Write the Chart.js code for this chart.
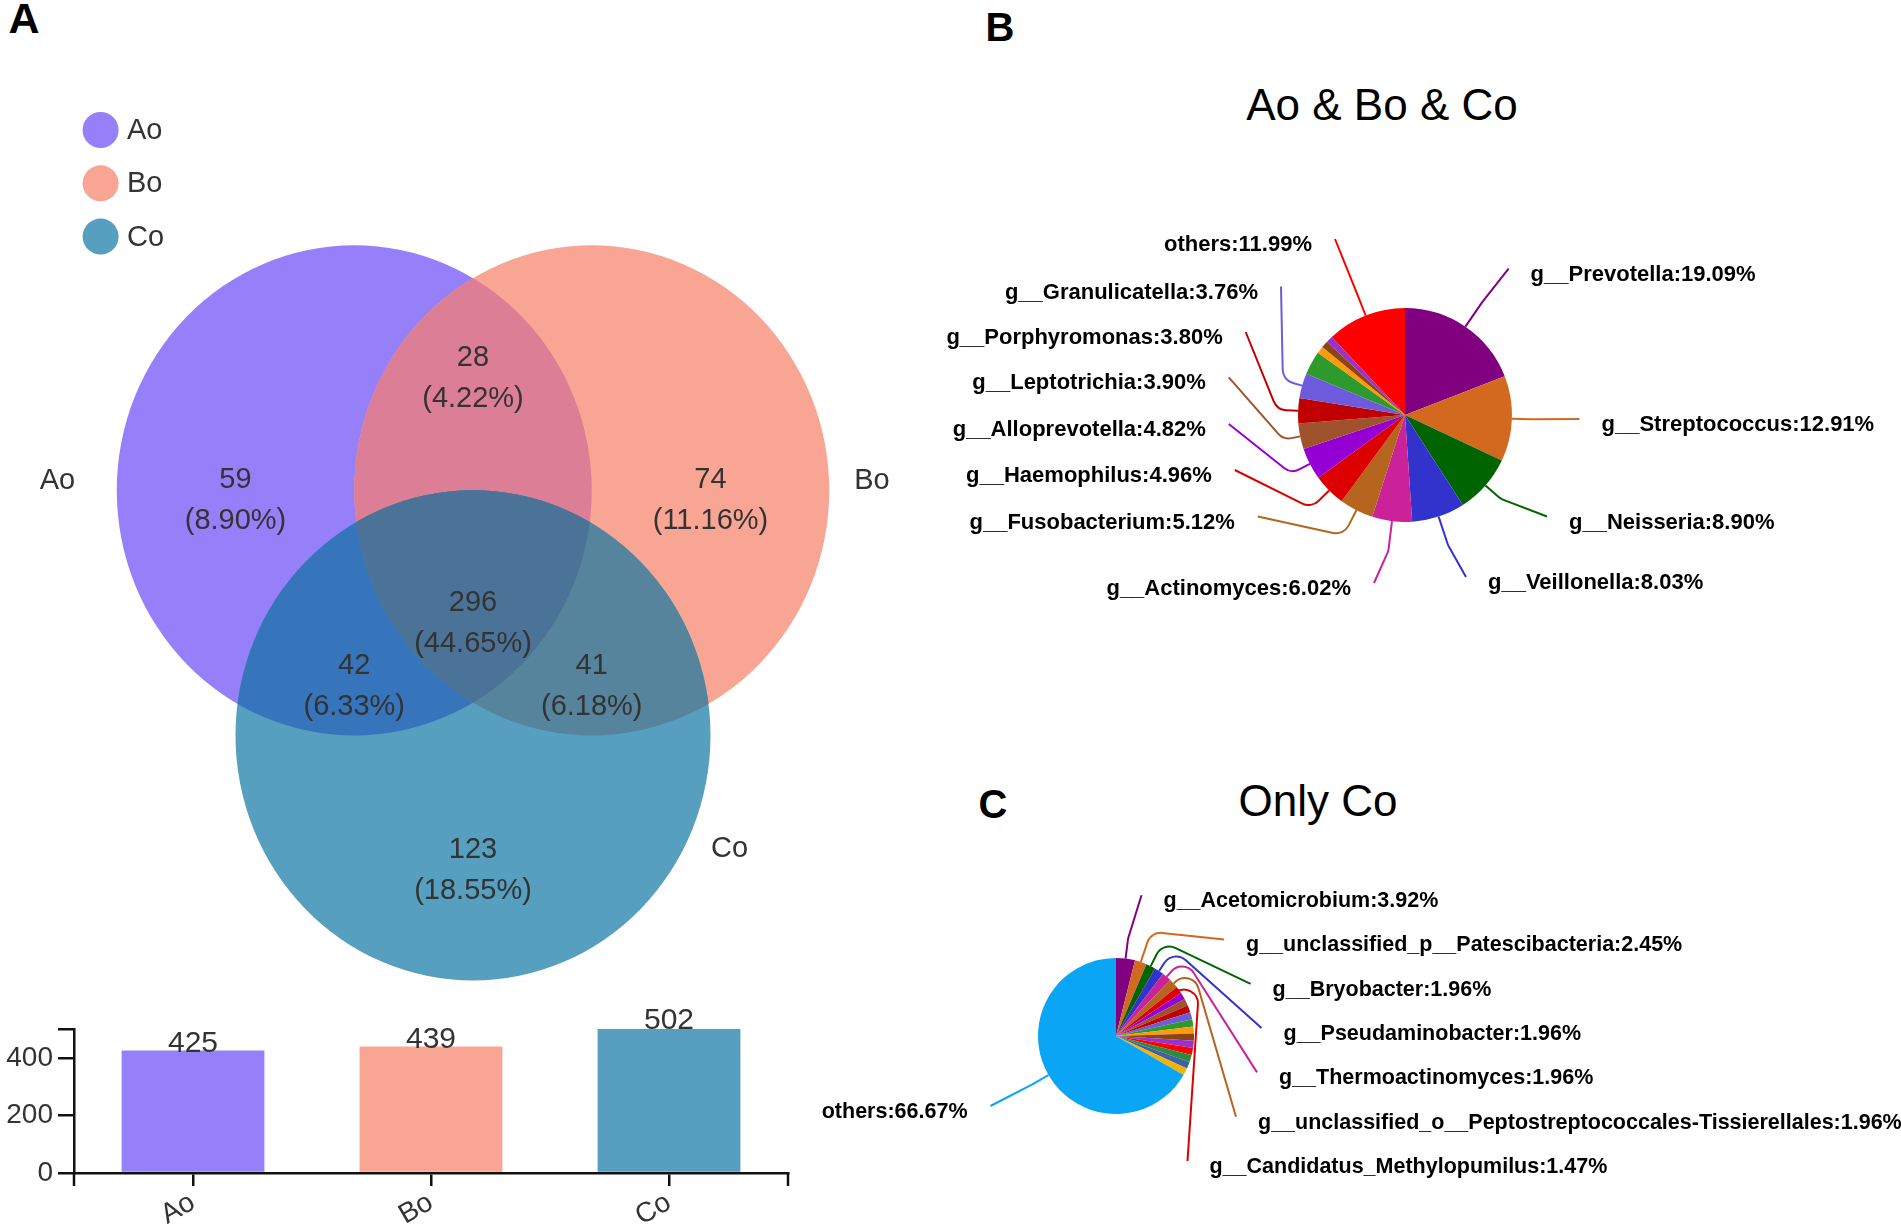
<!DOCTYPE html>
<html>
<head>
<meta charset="utf-8">
<script src="https://cdn.jsdelivr.net/npm/chart.js@4.4.1/dist/chart.umd.min.js"></script>
<style>
  html, body { margin: 0; padding: 0; background: #fff; }
  body { width: 1901px; height: 1224px; position: relative; overflow: hidden; font-family: "Liberation Sans", Arial, sans-serif; }
  .box { position: absolute; }
  .txt { position: absolute; transform: translate(-50%, -50%); white-space: nowrap; color: #000; line-height: 1; }
  .panel { font-size: 40px; font-weight: bold; }
  .title { font-size: 44px; }
</style>
</head>
<body>
<div class="txt panel" style="left:24px;top:18px;font-size:43px">A</div>
<div class="txt panel" style="left:1000px;top:27px">B</div>
<div class="txt panel" style="left:993px;top:804px">C</div>
<div class="txt title" style="left:1382px;top:105px">Ao &amp; Bo &amp; Co</div>
<div class="txt title" style="left:1318px;top:801px">Only Co</div>

<div class="box" style="left:-2px;top:86px;width:950px;height:919px"><canvas id="venn"></canvas></div>
<div class="box" style="left:0;top:1000px;width:800px;height:224px"><canvas id="bars"></canvas></div>
<div class="box" style="left:900px;top:0;width:1001px;height:700px"><canvas id="pieAll"></canvas></div>
<div class="box" style="left:800px;top:860px;width:1101px;height:364px"><canvas id="pieCo"></canvas></div>

<script>
// ---- data ----
const sets = ['Ao', 'Bo', 'Co'];
const setTotals = [425, 439, 502];
const barTicks = [0, 200, 400, 500];

// venn circles, in the venn's own units (radius 1)
const vennX = [0, 1, 0.5];
const vennY = [0, 0, -1];
const regionNames = ['Ao', 'Bo', 'Co', 'Ao&Bo', 'Ao&Co', 'Bo&Co', 'Ao&Bo&Co'];
const regionCounts = [59, 74, 123, 28, 42, 41, 296];
const regionPct = ['8.90%', '11.16%', '18.55%', '4.22%', '6.33%', '6.18%', '44.65%'];

const allGenera = ['g__Prevotella', 'g__Streptococcus', 'g__Neisseria', 'g__Veillonella', 'g__Actinomyces',
  'g__Fusobacterium', 'g__Haemophilus', 'g__Alloprevotella', 'g__Leptotrichia', 'g__Porphyromonas',
  'g__Granulicatella', '', '', '', '', 'others'];
const allShares = [19.09, 12.91, 8.90, 8.03, 6.02, 5.12, 4.96, 4.82, 3.90, 3.80, 3.76, 3.55, 1.10, 1.05, 1.00, 11.99];

const coGenera = ['g__Acetomicrobium', 'g__unclassified_p__Patescibacteria', 'g__Bryobacter', 'g__Pseudaminobacter',
  'g__Thermoactinomyces', 'g__unclassified_o__Peptostreptococcales-Tissierellales', 'g__Candidatus_Methylopumilus',
  '', '', '', '', '', '', '', '', '', '', '', '', 'others'];
const coShares = [3.92, 2.45, 1.96, 1.96, 1.96, 1.96, 1.47,
  1.47, 1.47, 1.47, 1.47, 1.47, 1.47, 1.47, 1.47, 1.47, 1.47, 1.47, 1.47, 66.67];

// ---- styles / layout ----
const setColors = ['#9580fa', '#f9a594', '#579fbf'];
const regionColors = ['#9580fa', '#f9a594', '#579fbf', '#dc7e96', '#3675bc', '#56849c', '#4b7397'];
const regionPos = [[-0.5, -0.04], [1.5, -0.04], [0.5, -1.55], [0.5, 0.46], [0, -0.8], [1, -0.8], [0.5, -0.54]];
const setNamePos = [[-1.25, 0.04], [2.18, 0.04], [1.58, -1.465]];
const palette = ['#800080', '#d2691e', '#006400', '#3232cd', '#cc2299', '#b5651d', '#dc0000', '#9400d3',
  '#a0522d', '#c00000', '#6e5adc', '#2e9a2e', '#ff9a0a', '#8b4513', '#9932cc', '#ff0000',
  '#2e8b3e', '#3f62a8', '#f4b400'];

// label anchor relative to pie centre: i, side, dx, dy, ext (radial run before the bend)
const allLabelPos = [
  [0, 'right', 125.6, -140.3, 30], [1, 'right', 196.5, 10, 20], [2, 'right', 164, 107.5, 20],
  [3, 'right', 83, 168, 30], [4, 'left', -54, 174, 30], [5, 'left', -170.2, 107.5, 28],
  [6, 'left', -193.2, 61, 25], [7, 'left', -199.2, 15, 21], [8, 'left', -199.2, -31.6, 17],
  [9, 'left', -182.3, -77, 21], [10, 'left', -147, -122.5, 20], [15, 'left', -93, -170, 30]
];
const coLabelPos = [
  [0, 'right', 47.5, -134.8, 20], [1, 'right', 130, -90.5, 32], [2, 'right', 156.6, -46.2, 27],
  [3, 'right', 167.5, -2, 26], [4, 'right', 163, 42.4, 26], [5, 'right', 142, 86.7, 25],
  [6, 'right', 93.5, 131, 26], [19, 'left', -148.5, 76, 20]
];

const FONT = '"Liberation Sans", Arial, sans-serif';
Chart.defaults.font.family = FONT;

// ---- venn ----
const vennPlugin = {
  id: 'venn',
  beforeDatasetsDraw(chart) {
    const { ctx, scales: { x, y } } = chart;
    const rx = Math.abs(x.getPixelForValue(1) - x.getPixelForValue(0));
    const ry = Math.abs(y.getPixelForValue(0) - y.getPixelForValue(1));
    const shape = i => {
      ctx.beginPath();
      ctx.ellipse(x.getPixelForValue(vennX[i]), y.getPixelForValue(vennY[i]), rx, ry, 0, 0, Math.PI * 2);
    };
    const paint = (clips, i, color) => {
      ctx.save();
      clips.forEach(c => { shape(c); ctx.clip(); });
      shape(i);
      ctx.fillStyle = color;
      ctx.fill();
      ctx.restore();
    };
    paint([], 0, regionColors[0]);
    paint([], 1, regionColors[1]);
    paint([], 2, regionColors[2]);
    paint([0], 1, regionColors[3]);
    paint([0], 2, regionColors[4]);
    paint([1], 2, regionColors[5]);
    paint([0, 1], 2, regionColors[6]);
  },
  afterDraw(chart) {
    const { ctx, scales: { x, y } } = chart;
    ctx.save();
    ctx.fillStyle = '#333';
    ctx.textAlign = 'center';
    ctx.textBaseline = 'middle';
    ctx.font = '29px ' + FONT;
    regionCounts.forEach((n, i) => {
      const px = x.getPixelForValue(regionPos[i][0]);
      const py = y.getPixelForValue(regionPos[i][1]);
      ctx.fillText(String(n), px, py - 20);
      ctx.fillText('(' + regionPct[i] + ')', px, py + 21);
    });
    sets.forEach((s, i) => {
      ctx.fillText(s, x.getPixelForValue(setNamePos[i][0]), y.getPixelForValue(setNamePos[i][1]));
    });
    // legend
    ctx.textAlign = 'left';
    sets.forEach((s, i) => {
      const ly = 44 + i * 53.3;
      ctx.beginPath();
      ctx.arc(102.6, ly, 18, 0, Math.PI * 2);
      ctx.fillStyle = setColors[i];
      ctx.fill();
      ctx.fillStyle = '#333';
      ctx.fillText(s, 129, ly + 1);
    });
    ctx.restore();
  }
};

new Chart(document.getElementById('venn'), {
  type: 'scatter',
  data: { datasets: [{ data: vennX.map((v, i) => ({ x: v, y: vennY[i] })), pointRadius: 0 }] },
  options: {
    responsive: true, maintainAspectRatio: false, animation: false, events: [],
    layout: { padding: 0, autoPadding: false },
    plugins: { legend: { display: false }, tooltip: { enabled: false } },
    scales: {
      x: { type: 'linear', min: -1.5, max: 2.5, display: false },
      y: { type: 'linear', min: -2.1, max: 1.65, display: false }
    }
  },
  plugins: [vennPlugin]
});

// ---- bars ----
const barValues = {
  id: 'barValues',
  afterDatasetsDraw(chart) {
    const { ctx } = chart;
    const ds = chart.data.datasets[0];
    ctx.save();
    ctx.font = '30px ' + FONT;
    ctx.fillStyle = '#333';
    ctx.textAlign = 'center';
    ctx.textBaseline = 'alphabetic';
    chart.getDatasetMeta(0).data.forEach((bar, i) => ctx.fillText(String(ds.data[i]), bar.x, bar.y + 1));
    const { left, right, bottom } = chart.chartArea;
    ctx.strokeStyle = '#111';
    ctx.lineWidth = 2.5;
    ctx.beginPath();
    ctx.moveTo(left, bottom); ctx.lineTo(left, bottom + 13);
    ctx.moveTo(right, bottom); ctx.lineTo(right, bottom + 13);
    ctx.stroke();
    ctx.restore();
  }
};

new Chart(document.getElementById('bars'), {
  type: 'bar',
  data: {
    labels: sets,
    datasets: [{ data: setTotals, backgroundColor: setColors, barPercentage: 0.6, categoryPercentage: 1 }]
  },
  options: {
    responsive: true, maintainAspectRatio: false, animation: false, events: [],
    layout: { padding: { top: 29, right: 12, left: 0, bottom: 0 } },
    plugins: { legend: { display: false }, tooltip: { enabled: false } },
    scales: {
      x: {
        offset: true,
        grid: { offset: false, drawOnChartArea: false, color: '#111', lineWidth: 2.5, tickLength: 13 },
        border: { color: '#111', width: 2.5 },
        ticks: { minRotation: 30, maxRotation: 30, color: '#333', font: { size: 28 }, padding: 0 },
        afterFit(s) { s.height = 51; }
      },
      y: {
        min: 0, max: 500,
        afterBuildTicks(s) { s.ticks = barTicks.map(v => ({ value: v })); },
        grid: { drawOnChartArea: false, color: '#111', lineWidth: 2.5, tickLength: 16 },
        border: { color: '#111', width: 2.5 },
        ticks: { color: '#333', font: { size: 28 }, padding: 5, callback: v => (v === 500 ? '' : v) },
        afterFit(s) { s.width = 74; }
      }
    }
  },
  plugins: [barValues]
});

// ---- pies ----
const pieLabels = {
  id: 'pieLabels',
  afterDatasetsDraw(chart, args, opts) {
    const { ctx } = chart;
    const meta = chart.getDatasetMeta(0);
    const ds = chart.data.datasets[0];
    ctx.save();
    ctx.font = 'bold ' + opts.size + 'px ' + FONT;
    ctx.textBaseline = 'middle';
    ctx.lineWidth = 2;
    opts.layout.forEach(([i, side, dx, dy, ext]) => {
      const arc = meta.data[i];
      const mid = (arc.startAngle + arc.endAngle) / 2;
      const cx = arc.x, cy = arc.y, r = arc.outerRadius;
      const ux = Math.cos(mid), uy = Math.sin(mid);
      const ax = cx + dx, ay = cy + dy;
      const ex = ax + (side === 'left' ? 23 : -22), ey = ay - 6;
      ctx.strokeStyle = ds.backgroundColor[i];
      ctx.beginPath();
      ctx.moveTo(cx + ux * r, cy + uy * r);
      ctx.arcTo(cx + ux * (r + ext), cy + uy * (r + ext), ex, ey, 14);
      ctx.lineTo(ex, ey);
      ctx.stroke();
      ctx.fillStyle = '#000';
      ctx.textAlign = side === 'left' ? 'right' : 'left';
      ctx.fillText(chart.data.labels[i] + ':' + ds.data[i].toFixed(2) + '%', ax, ay);
    });
    ctx.restore();
  }
};

function pie(id, labels, values, colors, radius, padding, layout, size) {
  return new Chart(document.getElementById(id), {
    type: 'pie',
    data: { labels, datasets: [{ data: values, backgroundColor: colors, borderWidth: 0, hoverOffset: 0 }] },
    options: {
      responsive: true, maintainAspectRatio: false, animation: false, events: [],
      radius,
      layout: { padding },
      plugins: { legend: { display: false }, tooltip: { enabled: false }, pieLabels: { layout, size } }
    },
    plugins: [pieLabels]
  });
}

pie('pieAll', allGenera, allShares, palette.slice(0, 16), 107,
  { left: 9, right: 0, top: 130, bottom: 0 }, allLabelPos, 22);
pie('pieCo', coGenera, coShares, palette.slice(0, 19).concat(['#0aa5f5']), 78,
  { left: 0, right: 469, top: 0, bottom: 12 }, coLabelPos, 21.5);
</script>
</body>
</html>
